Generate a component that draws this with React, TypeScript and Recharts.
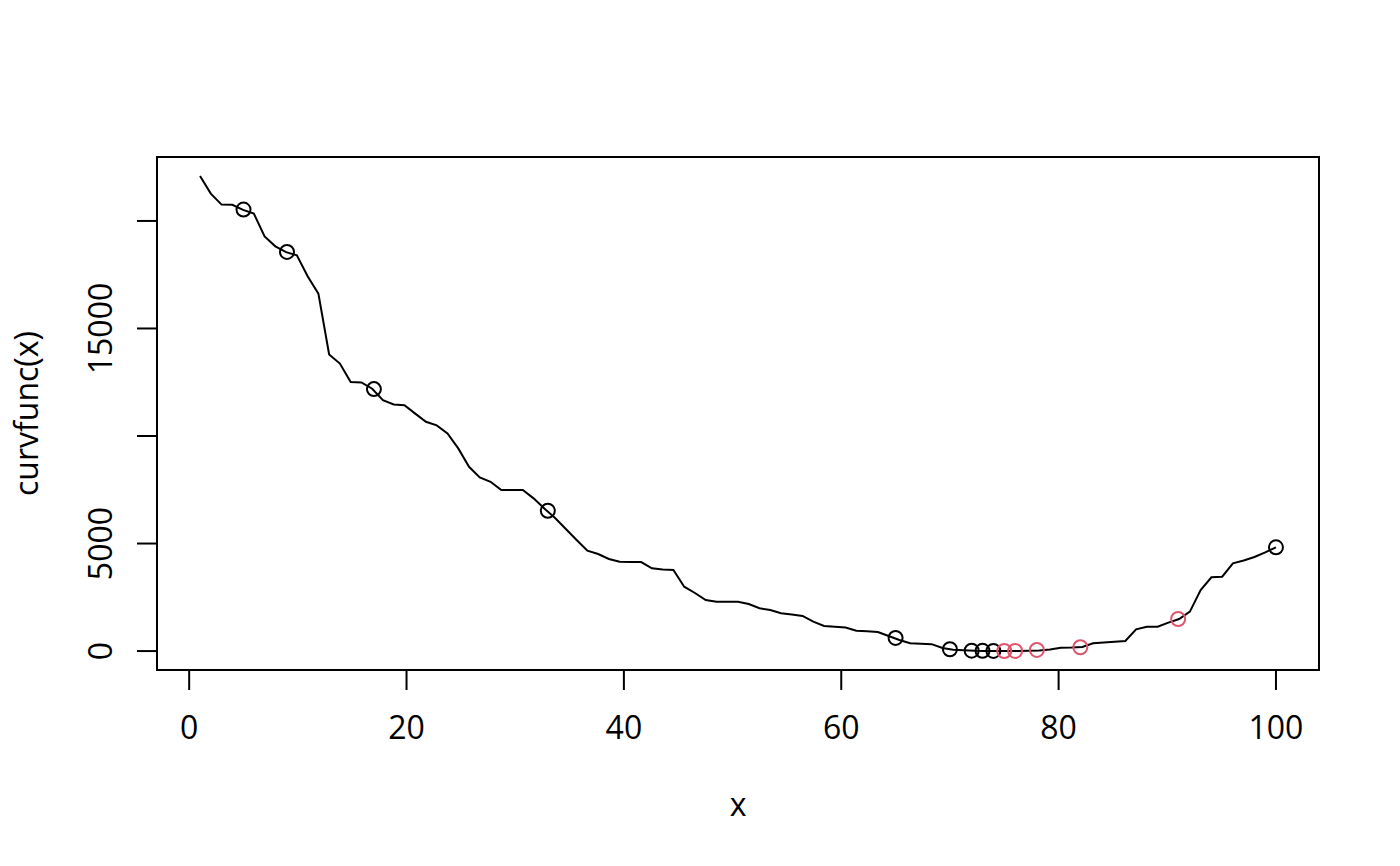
import React from 'react';
import { ComposedChart, Line, Scatter, XAxis, YAxis, ReferenceArea } from 'recharts';

const FONT = '"Open Sans", "Noto Sans", sans-serif';

// sample positions of the curve (101 points from 1 to 100)
const curveX = [
  1, 1.99, 2.98, 3.97, 4.96, 5.95, 6.94, 7.93, 8.92, 9.91,
  10.9, 11.89, 12.88, 13.87, 14.86, 15.85, 16.84, 17.83, 18.82, 19.81,
  20.8, 21.79, 22.78, 23.77, 24.76, 25.75, 26.74, 27.73, 28.72, 29.71,
  30.7, 31.69, 32.68, 33.67, 34.66, 35.65, 36.64, 37.63, 38.62, 39.61,
  40.6, 41.59, 42.58, 43.57, 44.56, 45.55, 46.54, 47.53, 48.52, 49.51,
  50.5, 51.49, 52.48, 53.47, 54.46, 55.45, 56.44, 57.43, 58.42, 59.41,
  60.4, 61.39, 62.38, 63.37, 64.36, 65.35, 66.34, 67.33, 68.32, 69.31,
  70.3, 71.29, 72.28, 73.27, 74.26, 75.25, 76.24, 77.23, 78.22, 79.21,
  80.2, 81.19, 82.18, 83.17, 84.16, 85.15, 86.14, 87.13, 88.12, 89.11,
  90.1, 91.09, 92.08, 93.07, 94.06, 95.05, 96.04, 97.03, 98.02, 99.01,
  100,
];

const curveY = [
  22090, 21270, 20760, 20750, 20515, 20340, 19280, 18820, 18550, 18400,
  17425, 16620, 13790, 13370, 12515, 12490, 12200, 11667, 11465, 11430,
  11040, 10660, 10492, 10121, 9424, 8569, 8076, 7872, 7486, 7486,
  7486, 7100, 6626, 6185, 5674, 5163, 4666, 4512, 4280, 4154,
  4140, 4140, 3848, 3792, 3769, 2993, 2700, 2375, 2296, 2296,
  2296, 2189, 1989, 1910, 1757, 1701, 1631, 1366, 1166, 1129,
  1097, 948, 925, 888, 702, 516, 362, 339, 321, 144,
  65, 37, 12, 6, 3, 3, 8, 16, 23, 74,
  158, 167, 190, 362, 400, 432, 469, 1013, 1134, 1134,
  1320, 1492, 1831, 2839, 3429, 3457, 4080, 4210, 4373, 4591,
  4823,
];

// marked points (black rings)
const blackX = [5, 9, 17, 33, 65, 70, 72, 73, 74, 100];
const blackY = [20530, 18560, 12180, 6524, 609, 84, 19, 10, 5, 4823];
// marked points (red rings)
const redX = [75, 76, 78, 82, 91];
const redY = [3, 6, 51, 177, 1492];

const xTicks = [0, 20, 40, 60, 80, 100];
const xTickLabels = ['0', '20', '40', '60', '80', '100'];
const yTicks = [0, 5000, 10000, 15000, 20000];
const yTickLabels = ['0', '5000', '', '15000', ''];

const lineData = curveX.map((x, i) => ({ x, y: curveY[i] }));
const blackData = blackX.map((x, i) => ({ x, y: blackY[i] }));
const redData = redX.map((x, i) => ({ x, y: redY[i] }));

// R-style 4% axis extension
const xMin = Math.min(...curveX);
const xMax = Math.max(...curveX);
const yMin = Math.min(...curveY);
const yMax = Math.max(...curveY);
const xDomain: [number, number] = [xMin - 0.04 * (xMax - xMin), xMax + 0.04 * (xMax - xMin)];
const yDomain: [number, number] = [yMin - 0.04 * (yMax - yMin), yMax + 0.04 * (yMax - yMin)];

const XTick = (props: any) => {
  const { x, y, payload } = props;
  const idx = xTicks.indexOf(payload.value);
  return (
    <text x={x} y={y + 49} textAnchor="middle" fontFamily={FONT} fontSize={32} fill="#000">
      {idx >= 0 ? xTickLabels[idx] : ''}
    </text>
  );
};

const YTick = (props: any) => {
  const { x, y, payload } = props;
  const idx = yTicks.indexOf(payload.value);
  const bx = x - 25;
  return (
    <text
      x={bx}
      y={y}
      transform={`rotate(-90, ${bx}, ${y})`}
      textAnchor="middle"
      fontFamily={FONT}
      fontSize={32}
      fill="#000"
    >
      {idx >= 0 ? yTickLabels[idx] : ''}
    </text>
  );
};

const XLabel = (props: any) => {
  const vb = props.viewBox || {};
  return (
    <text x={vb.x + vb.width / 2} y={vb.y + 146} textAnchor="middle" fontFamily={FONT} fontSize={32} fill="#000">
      x
    </text>
  );
};

const YLabel = (props: any) => {
  const vb = props.viewBox || {};
  const cy = vb.y + vb.height / 2;
  return (
    <text
      x={30}
      y={cy}
      transform={`rotate(-90, 30, ${cy})`}
      textAnchor="middle"
      fontFamily={FONT}
      fontSize={32}
      fill="#000"
    >
      curvfunc(x)
    </text>
  );
};

const Ring = (color: string) => (props: any) => {
  const { cx, cy } = props;
  return <circle cx={cx} cy={cy} r={7} fill="none" stroke={color} strokeWidth={2} />;
};

export default function App() {
  return (
    <div style={{ width: 1392, height: 850, background: '#fff' }}>
      <ComposedChart
        width={1392}
        height={850}
        margin={{ top: 149, right: 81, bottom: 0, left: 0 }}
        style={{ background: '#fff' }}
      >
        <XAxis
          type="number"
          dataKey="x"
          domain={xDomain}
          ticks={xTicks}
          interval={0}
          height={188}
          axisLine={false}
          tickLine={{ stroke: '#000', strokeWidth: 2 }}
          tickSize={20}
          tickMargin={0}
          tick={<XTick />}
          label={<XLabel />}
          allowDataOverflow
        />
        <YAxis
          type="number"
          dataKey="y"
          domain={yDomain}
          ticks={yTicks}
          interval={0}
          width={149}
          axisLine={false}
          tickLine={{ stroke: '#000', strokeWidth: 2 }}
          tickSize={20}
          tickMargin={0}
          tick={<YTick />}
          label={<YLabel />}
          allowDataOverflow
        />
        <ReferenceArea
          x1={xDomain[0]}
          x2={xDomain[1]}
          y1={yDomain[0]}
          y2={yDomain[1]}
          fill="none"
          fillOpacity={0}
          stroke="#000"
          strokeWidth={2}
          strokeOpacity={1}
        />
        <Line
          data={lineData}
          dataKey="y"
          type="linear"
          stroke="#000"
          strokeWidth={2}
          dot={false}
          activeDot={false}
          isAnimationActive={false}
        />
        <Scatter data={blackData} dataKey="y" shape={Ring('#000')} isAnimationActive={false} />
        <Scatter data={redData} dataKey="y" shape={Ring('#DF536B')} isAnimationActive={false} />
      </ComposedChart>
    </div>
  );
}
